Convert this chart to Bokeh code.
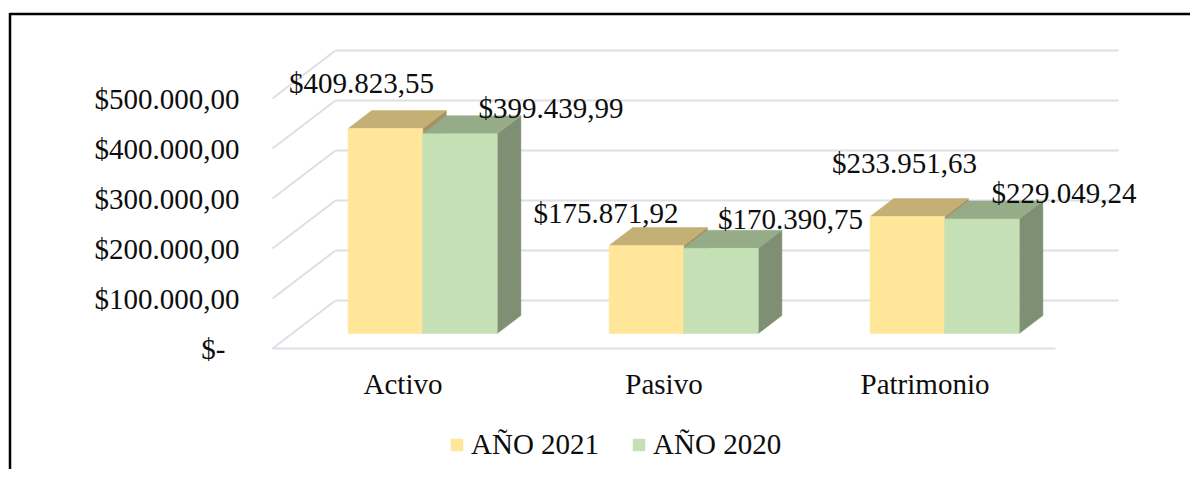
from bokeh.plotting import figure
from bokeh.models import Range1d, Legend, LegendItem
from bokeh.core.properties import value
from bokeh.embed import file_html
from bokeh.resources import INLINE

# ---------------- data ----------------
categories = ["Activo", "Pasivo", "Patrimonio"]
series_names = ["AÑO 2021", "AÑO 2020"]
values_2021 = [409823.55, 175871.92, 233951.63]
values_2020 = [399439.99, 170390.75, 229049.24]
y_ticks = [0, 100000, 200000, 300000, 400000, 500000]
y_tick_labels = ["$-", "$100.000,00", "$200.000,00", "$300.000,00", "$400.000,00", "$500.000,00"]


def money(v):
    s = f"{v:,.2f}"  # 409,823.55
    s = s.replace(",", "X").replace(".", ",").replace("X", ".")
    return "$" + s


# ---------------- style / layout ----------------
W, H = 1190, 469
FRONT_X0_PX = 272          # canvas px of category axis start (front plane)
CAT_PX = 261               # px per category
FRONT_Y0_PX = 348          # canvas px of value 0 on front plane
UNITS_PER_PX = 2000        # value units per px

DEPTH_DX = 63 / CAT_PX     # full floor depth, x-shift in category units
DEPTH_DY = 48 * UNITS_PER_PX
BAR_W = 1 / 3.5            # gap width 150 %
GAP_HALF = 0.75 * BAR_W
D_FRONT, D_BACK = 0.3125, 0.6875

FONT_NAME = "Liberation Serif"
FONT = value(FONT_NAME)
FSIZE = "29px"
TXT = "#0d0d0d"
GRID = "#dcdfe6"
TEXT_SHIFT = 10            # px the renderer places alphabetic baselines lower

FRONT_COLORS = ["#FFE699", "#C5E0B4"]
TOP_COLORS = ["#C4B075", "#96AB88"]
SIDE_COLORS = ["#A39362", "#7E8F73"]

# label offsets (px, +right, +down) relative to front-top-center of bar
LBL_DX = [[-24, -40.5, -3], [91, 69.5, 82]]
LBL_DY = [[-36, -23, -44], [-16, -19, -15.5]]


def px_x(dpx):
    return dpx / CAT_PX


def px_y(dpx):
    return dpx * UNITS_PER_PX


x_start = -FRONT_X0_PX / CAT_PX
x_end = (W - FRONT_X0_PX) / CAT_PX
y_start = -(H - FRONT_Y0_PX) * UNITS_PER_PX
y_end = FRONT_Y0_PX * UNITS_PER_PX

p = figure(width=W, height=H, x_range=Range1d(x_start, x_end), y_range=Range1d(y_start, y_end),
           x_axis_type=None, y_axis_type=None, toolbar_location=None, output_backend="svg",
           min_border=0, outline_line_color=None)
p.grid.visible = False
p.background_fill_color = "white"

n_cat = len(categories)

# ---- walls: back wall gridlines, side wall diagonals, floor front edge ----
p.segment(x0=[DEPTH_DX] * len(y_ticks), y0=[t + DEPTH_DY for t in y_ticks],
          x1=[n_cat + DEPTH_DX] * len(y_ticks), y1=[t + DEPTH_DY for t in y_ticks],
          line_color=GRID, line_width=2)
p.segment(x0=[0] * len(y_ticks), y0=y_ticks,
          x1=[DEPTH_DX] * len(y_ticks), y1=[t + DEPTH_DY for t in y_ticks],
          line_color=GRID, line_width=2)
p.segment(x0=[0], y0=[0], x1=[n_cat], y1=[0], line_color=GRID, line_width=2)

# ---- bars ----
front_renderers = []
for s, vals in enumerate([values_2021, values_2020]):
    fl, fr, fb, ft = [], [], [], []
    top_xs, top_ys, side_xs, side_ys = [], [], [], []
    for c, v in enumerate(vals):
        l = c + GAP_HALF + s * BAR_W
        r = l + BAR_W
        ax0, ay0 = D_FRONT * DEPTH_DX, D_FRONT * DEPTH_DY
        ax1, ay1 = D_BACK * DEPTH_DX, D_BACK * DEPTH_DY
        fl.append(l + ax0); fr.append(r + ax0); fb.append(ay0); ft.append(v + ay0)
        top_xs.append([l + ax0, r + ax0, r + ax1, l + ax1])
        top_ys.append([v + ay0, v + ay0, v + ay1, v + ay1])
        side_xs.append([r + ax0, r + ax1, r + ax1, r + ax0])
        side_ys.append([ay0, ay1, v + ay1, v + ay0])
    p.patches(side_xs, side_ys, fill_color=SIDE_COLORS[s], line_color=SIDE_COLORS[s], line_width=0.5)
    p.patches(top_xs, top_ys, fill_color=TOP_COLORS[s], line_color=TOP_COLORS[s], line_width=0.5)
    fr_r = p.quad(left=fl, right=fr, bottom=fb, top=ft, fill_color=FRONT_COLORS[s],
                  line_color=FRONT_COLORS[s], line_width=0.5)
    front_renderers.append(fr_r)

# ---- data labels ----
for s, vals in enumerate([values_2021, values_2020]):
    xs, ys, texts = [], [], []
    for c, v in enumerate(vals):
        cx = c + GAP_HALF + s * BAR_W + BAR_W / 2 + D_FRONT * DEPTH_DX
        cy = v + D_FRONT * DEPTH_DY
        xs.append(cx + px_x(LBL_DX[s][c]))
        ys.append(cy - px_y(LBL_DY[s][c] - TEXT_SHIFT))
        texts.append(money(v))
    p.text(x=xs, y=ys, text=texts, text_font=FONT, text_font_size=FSIZE, text_color=TXT,
           text_align="center", text_baseline="alphabetic")

# ---- y tick labels ----
tick_x = [px_x(-33 - (14 if t == 0 else 0)) for t in y_ticks]
p.text(x=tick_x, y=[t - px_y(10 - TEXT_SHIFT) for t in y_ticks], text=y_tick_labels, text_font=FONT,
       text_font_size=FSIZE, text_color=TXT, text_align="right", text_baseline="alphabetic")

# ---- category labels ----
p.text(x=[c + 0.5 for c in range(n_cat)], y=[-px_y(45 - TEXT_SHIFT)] * n_cat, text=categories,
       text_font=FONT, text_font_size=FSIZE, text_color=TXT, text_align="center",
       text_baseline="alphabetic")

# ---- chart border (top & left) ----
p.segment(x0=[px_x(9 - FRONT_X0_PX)], y0=[px_y(FRONT_Y0_PX - 13.5)],
          x1=[x_end], y1=[px_y(FRONT_Y0_PX - 13.5)], line_color="black", line_width=2.5)
p.segment(x0=[px_x(9.5 - FRONT_X0_PX)], y0=[px_y(FRONT_Y0_PX - 12.5)],
          x1=[px_x(9.5 - FRONT_X0_PX)], y1=[y_start], line_color="black", line_width=2.5)

# ---- legend ----
legend = Legend(items=[LegendItem(label=series_names[i], renderers=[front_renderers[i]]) for i in range(2)],
                orientation="horizontal", location=(449, 8.5), padding=0, margin=0, spacing=32,
                glyph_width=15, glyph_height=15, label_standoff=7, label_text_font=FONT_NAME,
                label_text_font_size=FSIZE, label_text_color=TXT, border_line_color=None,
                background_fill_alpha=0)
p.add_layout(legend)

open("out.html", "w").write(file_html(p, INLINE))
